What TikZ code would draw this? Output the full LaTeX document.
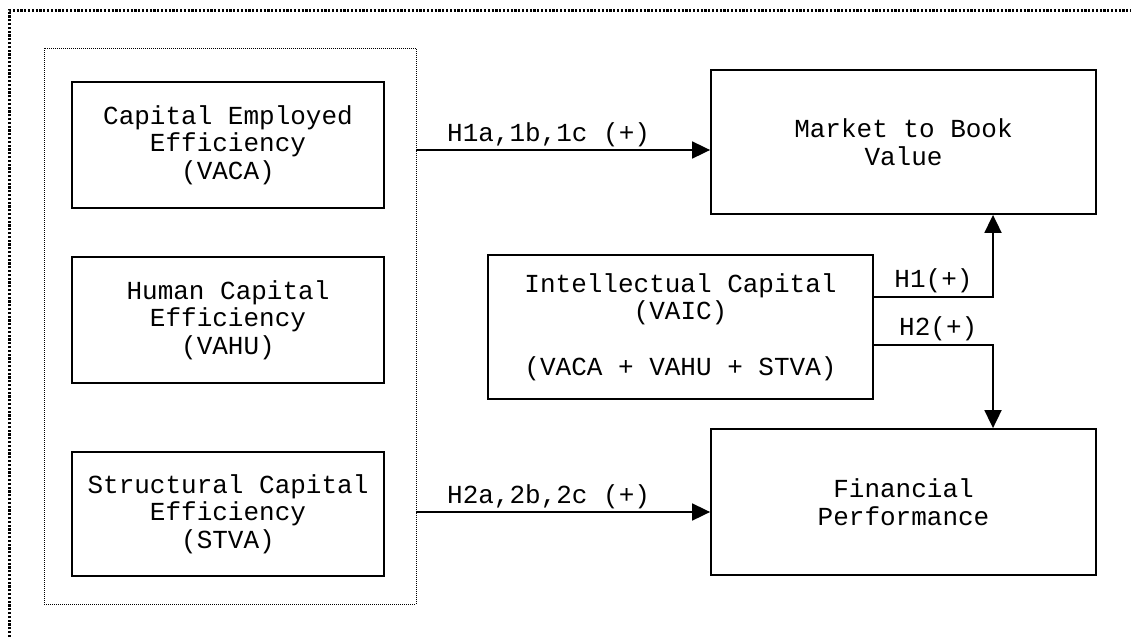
\documentclass[tikz,border=0pt]{standalone}
\usepackage{fontspec}
\newfontfamily\cour{Liberation Mono}
\usepackage{tikz}
\usetikzlibrary{arrows.meta,calc,positioning}

\tikzset{
  box/.style={draw, line width=1.8pt, align=center, inner sep=0pt,
    font=\cour\fontsize{26}{27.6}\selectfont},
  lbl/.style={font=\cour\fontsize{26}{27.6}\selectfont, inner sep=2pt},
  arr/.style={line width=1.8pt, -{Triangle[length=18pt,width=17pt]}},
}

\begin{document}
\begin{tikzpicture}[x=1pt, y=-1pt]
\useasboundingbox (0,0) rectangle (1131,637);

% outer frame
\draw[line width=3pt, dash pattern=on 2.2pt off 1.6pt] (9,637) -- (9,10) -- (1131,10);

% group of components
\node[draw, line width=0.9pt, dash pattern=on 1pt off 1pt, minimum width=372pt, minimum height=556pt](grp) at (230,326) {};

\node[box, minimum width=312pt, minimum height=126pt](cee) at (228,145) {Capital Employed\\Efficiency\\(VACA)};
\node[box, minimum width=312pt, minimum height=126pt](hce) at (228,320) {Human Capital\\Efficiency\\(VAHU)};
\node[box, minimum width=312pt, minimum height=124pt](sce) at (228,514) {Structural Capital\\Efficiency\\(STVA)};

\node[box, minimum width=385pt, minimum height=144pt](mbv) at (903.5,142) {Market to Book\\Value};
\node[box, minimum width=385pt, minimum height=144pt](ic) at (680.5,327) {Intellectual Capital\\(VAIC)\\[27.6pt](VACA + VAHU + STVA)};
\node[box, minimum width=385pt, minimum height=146pt](fp) at (903.5,502) {Financial\\Performance};

\draw[arr] (grp.east |- 0,150) -- (mbv.west |- 0,150) node[lbl, above, pos=0.45]{H1a,1b,1c (+)};
\draw[arr] (grp.east |- 0,512) -- (fp.west |- 0,512) node[lbl, above, pos=0.45]{H2a,2b,2c (+)};

\draw[arr] (ic.east |- 0,297) -| (mbv.south -| 993,0) node[lbl, pos=0.25, above=1pt]{H1(+)};
\draw[arr] (ic.east |- 0,345) -| (fp.north -| 993,0) node[lbl, pos=0.27, above=1pt]{H2(+)};
\end{tikzpicture}
\end{document}
